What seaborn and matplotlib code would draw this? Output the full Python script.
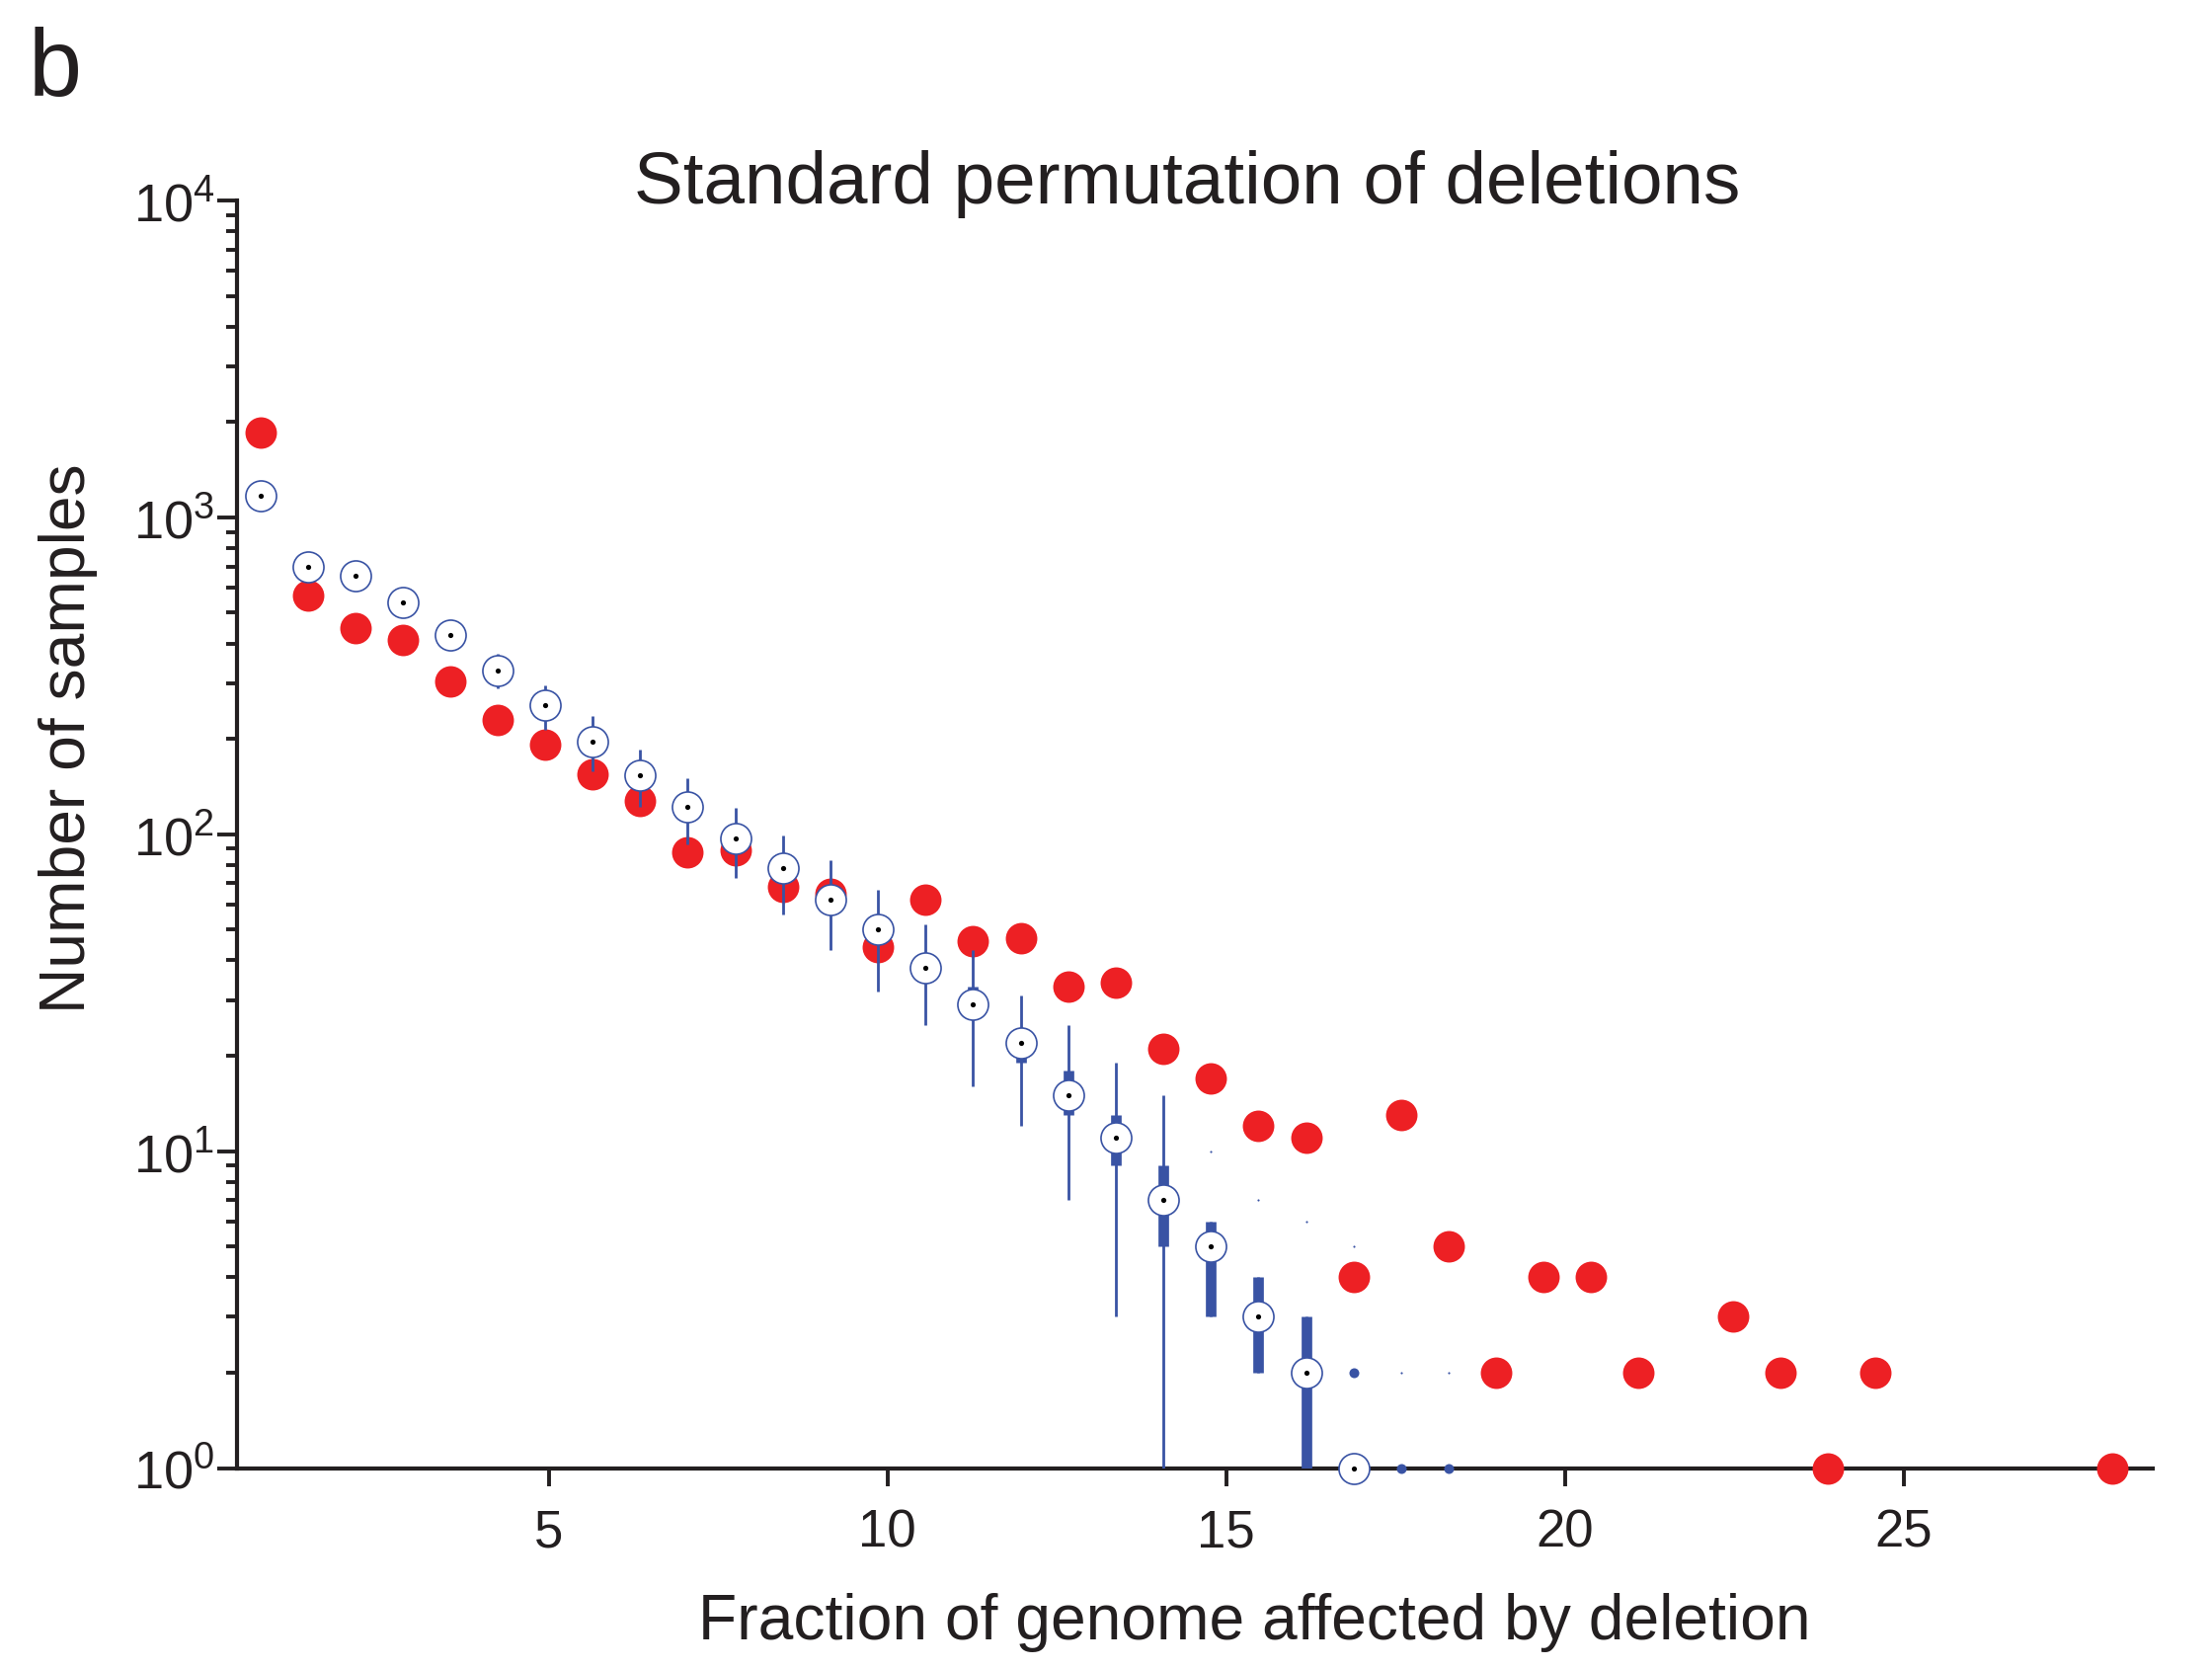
import matplotlib
matplotlib.use("Agg")
import matplotlib.pyplot as plt
import pandas as pd
import seaborn as sns
from matplotlib.ticker import FixedLocator, LogLocator, NullFormatter, NullLocator

# Bin centres (% of genome affected by deletion)
bin_center = [0.74, 1.44, 2.14, 2.85, 3.55, 4.25, 4.95, 5.65, 6.35, 7.05,
              7.76, 8.46, 9.16, 9.86, 10.56, 11.26, 11.97, 12.67, 13.37, 14.07,
              14.77, 15.47, 16.18, 16.88, 17.58, 18.28, 18.98, 19.68, 20.38, 21.09,
              21.79, 22.49, 23.19, 23.89, 24.59, 25.30, 26.00, 26.70, 27.40, 28.08]

# Observed number of samples per bin
observed = [1850, 565, 446, 411, 303, 230, 192, 155, 127, 88,
            89, 68, 65, 44, 62, 46, 47, 33, 34, 21,
            17, 12, 11, 4, 13, 5, 2, 4, 4, 2,
            0, 3, 2, 1, 2, 0, 0, 0, 0, 1]

# Permutation distribution summary (bins with a non-zero median)
perm_median = [1170, 700, 653, 539, 425, 329, 256, 196, 153, 122,
               97, 78, 62, 50, 38, 29, 22, 15, 11, 7,
               5, 3, 2, 1]
perm_q1 = [1100, 660, 615, 510, 400, 310, 241, 185, 144, 115,
           91, 73, 58, 47, 35, 26, 19, 13, 9, 5,
           3, 2, 1, 1]
perm_q3 = [1240, 740, 690, 570, 450, 348, 271, 208, 162, 129,
           103, 83, 66, 53, 41, 33, 24, 18, 13, 9,
           6, 4, 3, 1]
perm_lo = [1080, 650, 605, 500, 395, 289, 214, 158, 122, 93,
           73, 56, 43, 32, 25, 16, 12, 7, 3, 1,
           3, 2, 1, 1]
perm_hi = [1270, 750, 700, 580, 458, 372, 294, 236, 185, 150,
           121, 99, 83, 67, 52, 43, 31, 25, 19, 15,
           6, 4, 3, 1]

# Outlying permutation counts
outlier_x = [16.88, 17.58, 18.28]
outlier_y = [2, 1, 1]
rare_x = [14.77, 15.47, 16.18, 16.88, 17.58, 18.28]
rare_y = [10, 7, 6, 5, 2, 2]

RED = "#ED2024"
BLUE = "#3953A4"
INK = "#231F20"

sns.set_theme(style="ticks")
plt.rcParams["font.family"] = ["Liberation Sans", "DejaVu Sans"]
plt.rcParams["text.color"] = INK
plt.rcParams["axes.labelcolor"] = INK
plt.rcParams["xtick.color"] = INK
plt.rcParams["ytick.color"] = INK
plt.rcParams["axes.edgecolor"] = INK

obs = pd.DataFrame({"x": bin_center, "count": observed})
obs = obs[obs["count"] > 0]
n = len(perm_median)
perm = pd.DataFrame({"x": bin_center[:n], "median": perm_median,
                     "q1": perm_q1, "q3": perm_q3,
                     "lo": perm_lo, "hi": perm_hi})

fig = plt.figure(figsize=(11.2, 8.45), dpi=200)
ax = fig.add_axes([0.10714, 0.11982, 0.86607, 0.75947])
ax.set_yscale("log")

# observed counts
sns.scatterplot(data=obs, x="x", y="count", color=RED, s=132, linewidth=0,
                ax=ax, zorder=3, clip_on=False, legend=False)

# permutation whiskers and boxes
ax.vlines(perm["x"], perm["lo"], perm["hi"], color=BLUE, lw=1.0, zorder=4,
          capstyle="butt")
ax.vlines(perm["x"], perm["q1"], perm["q3"], color=BLUE, lw=3.85, zorder=4,
          capstyle="butt")

# outliers
sns.scatterplot(x=outlier_x, y=outlier_y, color=BLUE, s=13, linewidth=0,
                ax=ax, zorder=5, clip_on=False, legend=False)
sns.scatterplot(x=rare_x, y=rare_y, color=BLUE, s=0.6, linewidth=0,
                ax=ax, zorder=5, clip_on=False, legend=False)

# permutation medians: open circle with centre dot
sns.scatterplot(data=perm, x="x", y="median", s=125, ax=ax, zorder=6,
                clip_on=False, legend=False)
circles = ax.collections[-1]
circles.set_facecolor("white")
circles.set_edgecolor(BLUE)
circles.set_linewidth(0.6)
sns.scatterplot(data=perm, x="x", y="median", color="black", s=3.5,
                linewidth=0, ax=ax, zorder=7, clip_on=False, legend=False)

ax.set_xlim(0.397, 28.68)
ax.set_ylim(1, 1e4)
ax.xaxis.set_major_locator(FixedLocator([5, 10, 15, 20, 25]))
ax.xaxis.set_minor_locator(NullLocator())
ax.yaxis.set_major_locator(LogLocator(base=10, numticks=10))
ax.yaxis.set_minor_locator(LogLocator(base=10, subs=range(2, 10), numticks=20))
ax.yaxis.set_minor_formatter(NullFormatter())
ax.set_xlabel("")
ax.set_ylabel("")

sns.despine(ax=ax)
for side in ("left", "bottom"):
    ax.spines[side].set_linewidth(1.5)
    ax.spines[side].set_zorder(2.5)

ax.tick_params(axis="x", which="major", direction="out", length=6.5, width=1.4,
               pad=8, labelsize=19)
ax.tick_params(axis="y", which="major", direction="out", length=7.2, width=1.4,
               pad=1, labelsize=19.5)
ax.tick_params(axis="y", which="minor", direction="out", length=4.0, width=1.4)

fig.text(0.5366, 0.8781, "Standard permutation of deletions", fontsize=26.9,
         ha="center", va="baseline")
fig.text(0.567, 0.01775, "Fraction of genome affected by deletion", fontsize=23.1,
         ha="center", va="baseline")
fig.text(0.0308, 0.5574, "Number of samples", fontsize=23.1, rotation=90,
         ha="center", va="center")
fig.text(0.013, 0.9426, "b", fontsize=35, ha="left", va="baseline")

fig.savefig("out.png", dpi=200, facecolor="white")
